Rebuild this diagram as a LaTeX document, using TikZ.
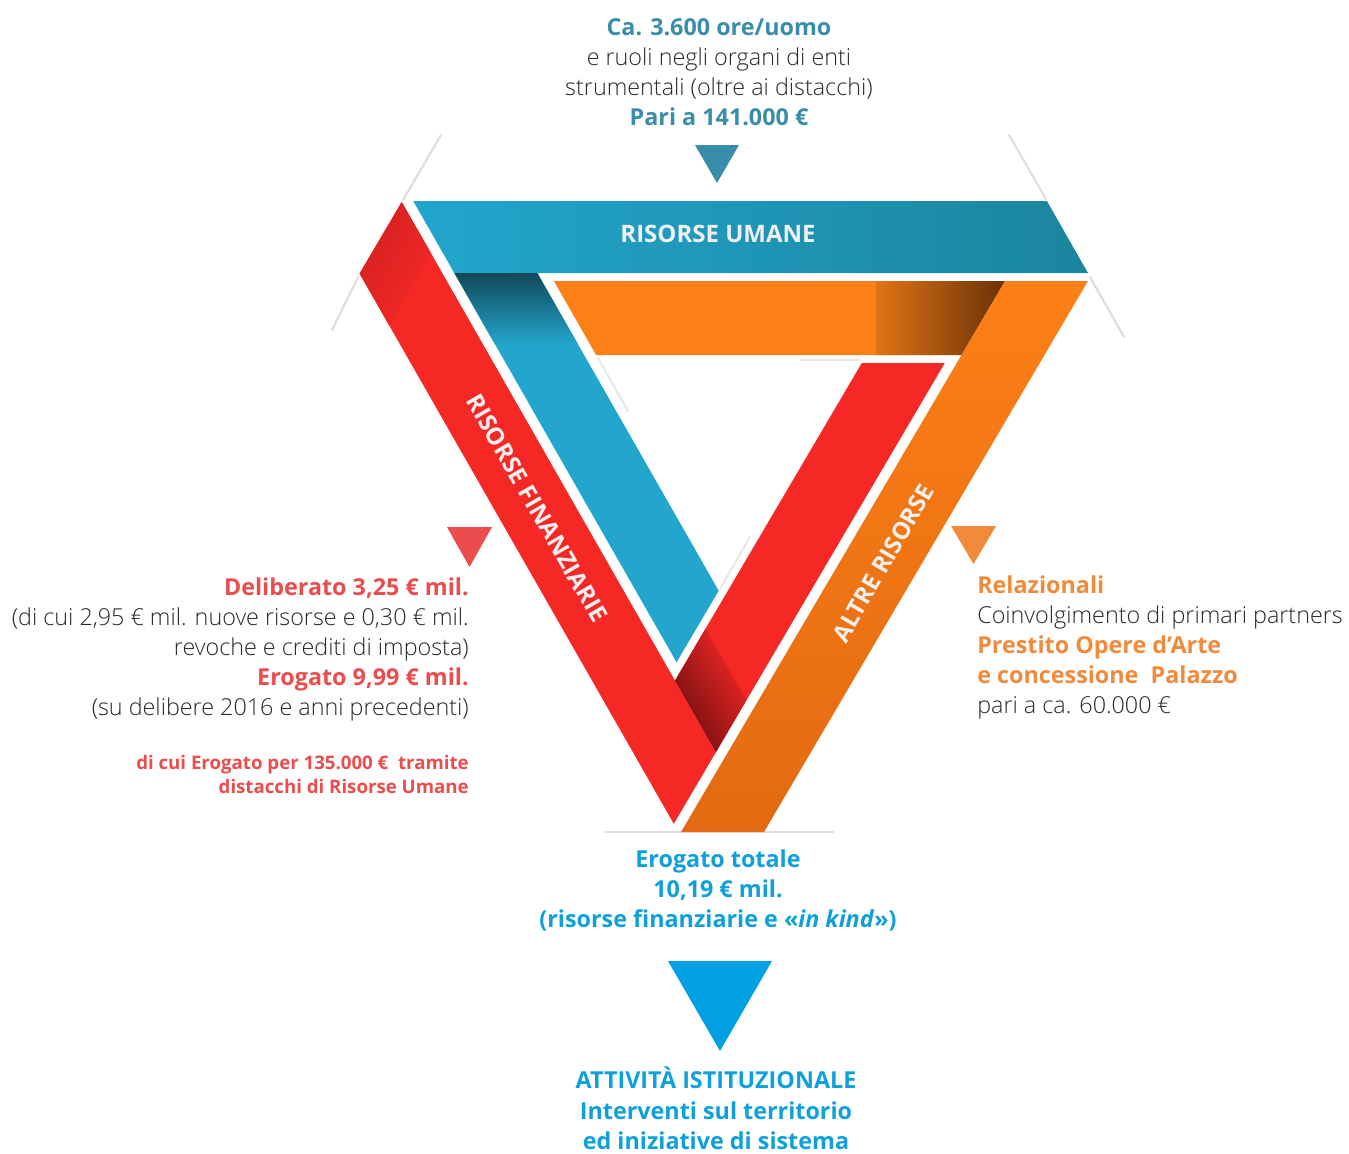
\documentclass[tikz,border=0pt]{standalone}
\usepackage{fontspec}
\setmainfont{Open Sans}[UprightFont=* Light, ItalicFont=* Light Italic, BoldFont=* Bold, BoldItalicFont=* Bold Italic]
\definecolor{ruteal}{RGB}{56,142,170}
\definecolor{rfred}{RGB}{236,76,76}
\definecolor{arorange}{RGB}{241,138,58}
\definecolor{totblue}{RGB}{14,160,220}
\definecolor{pointerblue}{RGB}{0,160,227}
\definecolor{bodytext}{RGB}{40,40,40}
\definecolor{bandblue}{RGB}{34,166,206}
\definecolor{bandblueD}{RGB}{27,133,158}
\definecolor{bandteal}{RGB}{17,72,88}
\definecolor{bandred}{RGB}{245,40,38}
\definecolor{bandredD}{RGB}{110,14,16}
\definecolor{bandorange}{RGB}{253,128,22}
\definecolor{bandorangeD}{RGB}{226,106,18}
\definecolor{bandorangeM}{RGB}{226,116,22}
\definecolor{bandbrown}{RGB}{104,50,8}

\begin{document}
\begin{tikzpicture}[x=0.75pt,y=-0.75pt,
  shadowline/.style={black!13,line width=1.6pt,line cap=round},
  innershadow/.style={black!9,line width=1.6pt,line cap=round},
  blocktext/.style={inner sep=0pt,text=bodytext,font=\fontsize{17.5}{22.5}\selectfont},
  bluetext/.style={blocktext,align=center,text=totblue,font=\fontsize{17.5}{22.5}\selectfont\bfseries},
  bandlabel/.style={inner sep=0pt,text=black!6,font=\fontsize{18}{20}\selectfont\bfseries}]
  \def\hi#1#2{{\bfseries\color{#1}#2}}
  \def\pointer#1#2#3#4#5{
    \fill[#1] (#2-#4,#3) -- (#2+#4,#3) -- (#2,#5) -- cycle;
  }
  \useasboundingbox (0,0) rectangle (1349,1153);
  % shadows under the ribbons
  \draw[shadowline] (441,135) -- (403,200);
  \draw[shadowline] (358,277) -- (332,330);
  \draw[shadowline] (1009,135) -- (1046,199);
  \draw[shadowline] (1090,277) -- (1124,337);
  \draw[shadowline] (605,832) -- (833,832);
  \draw[innershadow] (598,358) -- (628,411);
  \draw[innershadow] (720,589) -- (750,537);
  \draw[innershadow] (800,360) -- (860,360);
  % risorse umane
  \shade[left color=bandblue,right color=bandblueD] (413.2,201) -- (1046.9,201) -- (1088,273) -- (454.3,273) -- cycle;
  \fill[bandblue] (454.3,273) -- (537.3,273) -- (718.7,590.7) -- (676.6,662.3) -- cycle;
  \shade[top color=bandteal,bottom color=bandblue] (454.3,273) -- (537.3,273) -- (578.4,345) -- (495.4,345) -- cycle;
  % risorse finanziarie
  \fill[bandred] (359.6,273.6) -- (401.7,202) -- (715.9,752.2) -- (673.8,823.8) -- cycle;
  \shade[bottom color=bandredD!25!bandred,top color=bandred,shading angle=-120] (359.6,273.6) -- (401.7,202) -- (431,253) -- (389,325) -- cycle;
  \fill[bandred] (675,680.6) -- (715.9,752.2) -- (944.8,363) -- (861.8,363) -- cycle;
  \shade[bottom color=bandredD,top color=bandred,shading angle=-60] (675,680.6) -- (715.9,752.2) -- (746.3,700.4) -- (705.4,628.8) -- cycle;
  % altre risorse
  \fill[bandorange] (553.9,281) -- (1005,281) -- (961.5,355) -- (596.1,355) -- cycle;
  \shade[left color=bandorangeM,right color=bandbrown] (876,281) -- (1005,281) -- (961.5,355) -- (876,355) -- cycle;
  \shade[top color=bandorange,bottom color=bandorangeD] (1005,281) -- (1088,281) -- (764,832) -- (681,832) -- cycle;
  % ribbon labels
  \node[bandlabel] (umane) at (718,233.5) {RISORSE UMANE};
  \node[bandlabel,rotate=-60] (finanz) at (537,508) {RISORSE FINANZIARIE};
  \node[bandlabel,rotate=60] (altre) at (883,563) {ALTRE RISORSE};
  % pointers
  \pointer{ruteal}{717}{145}{22}{183}
  \pointer{rfred}{469.5}{527}{22.5}{567}
  \pointer{arorange}{973.5}{526}{22.5}{564}
  \pointer{pointerblue}{720}{961}{52}{1051}
  % texts
  \node[blocktext,align=center,anchor=north] (ore) at (719,18)
    {\hi{ruteal}{Ca. 3.600 ore/uomo}\\e ruoli negli organi di enti\\strumentali (oltre ai distacchi)\\\hi{ruteal}{Pari a 141.000 €}};
  \node[blocktext,align=right,anchor=north east] (delib) at (469,577)
    {\hi{rfred}{Deliberato 3,25 € mil.}\\(di cui 2,95 € mil. nuove risorse e 0,30 € mil.\\revoche e crediti di imposta)\\\hi{rfred}{Erogato 9,99 € mil.}\\(su delibere 2016 e anni precedenti)};
  \node[blocktext,align=right,anchor=north east,text=rfred,font=\fontsize{14}{18}\selectfont\bfseries] (distacchi) at (469,755)
    {di cui Erogato per 135.000 € \ tramite\\distacchi di Risorse Umane};
  \node[blocktext,align=left,anchor=north west] (relaz) at (977,575)
    {\hi{arorange}{Relazionali}\\Coinvolgimento di primari partners\\\hi{arorange}{Prestito Opere d’Arte}\\\hi{arorange}{e concessione \ Palazzo}\\pari a ca. 60.000 €};
  \node[bluetext,anchor=north] (totale) at (718,849)
    {Erogato totale\\10,19 € mil.\\(risorse finanziarie e «\textit{in kind}»)};
  \node[bluetext,anchor=south,font=\fontsize{17.5}{22.8}\selectfont\bfseries] (attivita) at (716,1150)
    {ATTIVITÀ ISTITUZIONALE\\Interventi sul territorio\\ed iniziative di sistema};
\end{tikzpicture}
\end{document}
